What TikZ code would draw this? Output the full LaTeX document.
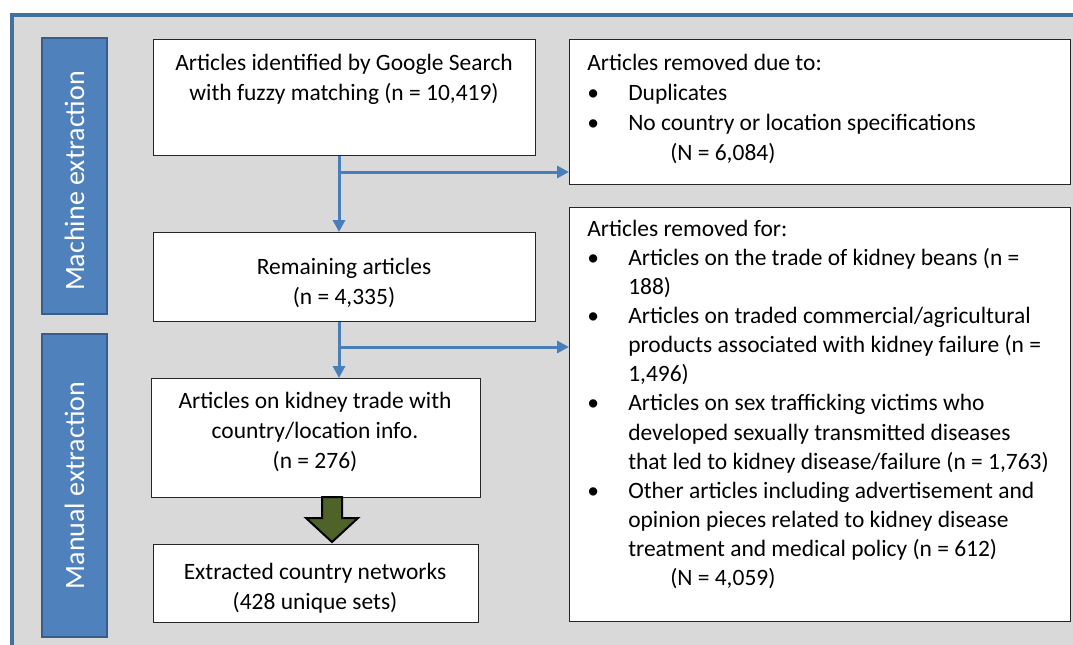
\documentclass[tikz,border=0pt]{standalone}
\usepackage{fontspec}
\setmainfont{Carlito}
\usetikzlibrary{arrows.meta}
\usetikzlibrary{calc}

\definecolor{frameblue}{HTML}{41719C}
\definecolor{barblue}{HTML}{4F81BD}
\definecolor{barline}{HTML}{385D8A}
\definecolor{flowblue}{HTML}{4A7EBB}
\definecolor{panelgray}{HTML}{D9D9D9}
\definecolor{olivegreen}{HTML}{4F6228}

\newcommand{\bitem}{\makebox[30.75pt][l]{\textbullet}}
\newcommand{\bcont}{\hspace*{30.75pt}}

\begin{document}
\begin{tikzpicture}[x=0.75pt,y=0.75pt,yscale=-1,xscale=1,
  box/.style={draw=black!85,line width=0.9pt,fill=white,anchor=north west,inner sep=0pt},
  txt/.style={inner sep=0pt,align=left,font=\fontsize{17.6}{21.8}\selectfont},
  ctxt/.style={inner sep=0pt,align=center,anchor=north,font=\fontsize{17.6}{22.5}\selectfont},
  sidebar/.style={draw=barline,line width=1.5pt,fill=barblue,anchor=north west,inner sep=0pt},
  sidetext/.style={text=white,rotate=90,inner sep=0pt,font=\fontsize{21}{24}\selectfont},
  flow/.style={draw=flowblue,line width=2.25pt,-{Triangle[length=9pt,width=9pt]}}]
\useasboundingbox (0,0) rectangle (1073,644);

%Shape: Panel
\draw [draw=frameblue,line width=3pt,fill=panelgray] (12,15) rectangle (1095,665);

%Side bars
\node (bar1) [sidebar,minimum width=48.75pt,minimum height=207pt] at (41,37) {};
\node (bar1txt) [sidetext] at ([yshift=3.75pt]bar1.center) {Machine extraction};
\node (bar2) [sidebar,minimum width=48.75pt,minimum height=227.25pt] at (41,333) {};
\node (bar2txt) [sidetext] at (bar2.center) {Manual extraction};

%Left column
\node (idf) [box,minimum width=286.5pt,minimum height=87pt] at (153,39) {};
\node (idftxt) [ctxt] at (344,54) {Articles identified by Google Search\\with fuzzy matching (n = 10,419)};
\node (rem) [box,minimum width=286.5pt,minimum height=66.75pt] at (153,232) {};
\node (remtxt) [ctxt] at (344,258) {Remaining articles\\(n = 4,335)};
\node (kid) [box,minimum width=246.75pt,minimum height=89.25pt] at (151,378) {};
\node (kidtxt) [ctxt] at (315,392) {Articles on kidney trade with\\country/location info.\\(n = 276)};
\node (ext) [box,minimum width=243.75pt,minimum height=58.5pt] at (153,544) {};
\node (exttxt) [ctxt] at (315,563) {Extracted country networks\\(428 unique sets)};

%Right column
\node (rmv1) [box,minimum width=375.75pt,minimum height=108.75pt] at (569,39) {};
\node (rmv1txt) [txt,anchor=north west,font=\fontsize{17.6}{22.5}\selectfont] at (587,54) {Articles removed due to:\\
\bitem Duplicates\\
\bitem No country or location specifications\\
\bcont\hspace*{31.5pt}(N = 6,084)};
\node (rmv2) [box,minimum width=375.75pt,minimum height=310.5pt] at (569,207) {};
\node (rmv2txt) [txt,anchor=north west] at (587,220) {Articles removed for:\\
\bitem Articles on the trade of kidney beans (n =\\
\bcont 188)\\
\bitem Articles on traded commercial/agricultural\\
\bcont products associated with kidney failure (n =\\
\bcont 1,496)\\
\bitem Articles on sex trafficking victims who\\
\bcont developed sexually transmitted diseases\\
\bcont that led to kidney disease/failure (n = 1,763)\\
\bitem Other articles including advertisement and\\
\bcont opinion pieces related to kidney disease\\
\bcont treatment and medical policy (n = 612)\\
\bcont\hspace*{31.5pt}(N = 4,059)};

%Connectors
\coordinate (br1) at (339,172);
\coordinate (br2) at (339,347);
\draw [flow] (idf.south -| br1) -- (rem.north -| br1);
\draw [flow] (br1) -- (rmv1.west |- br1);
\draw [flow] (rem.south -| br2) -- (kid.north -| br2);
\draw [flow] (br2) -- (rmv2.west |- br2);

%Shape: Block arrow
\draw [fill=olivegreen,line width=1.5pt] (322,497) -- (342,497) -- (342,518) -- (358,518) -- (332,542) -- (306,518) -- (322,518) -- cycle;

\end{tikzpicture}
\end{document}
